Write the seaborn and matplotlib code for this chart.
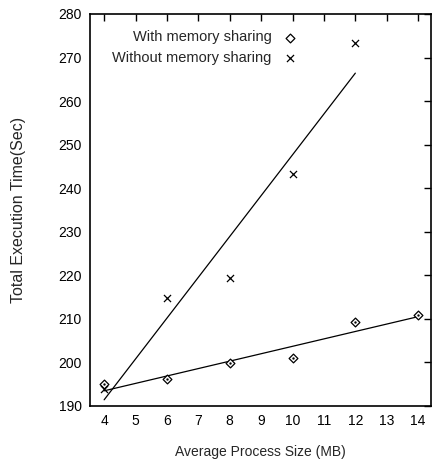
import matplotlib
matplotlib.use("Agg")
import matplotlib.pyplot as plt
import seaborn as sns
import pandas as pd
import numpy as np

sizes_with = [4, 6, 8, 10, 12, 14]
time_with = [195.0, 196.2, 199.8, 201.0, 209.2, 210.8]
sizes_without = [4, 6, 8, 10, 12]
time_without = [193.8, 214.8, 219.4, 243.3, 273.3]
xticks = list(range(4, 15))
yticks = list(range(190, 281, 10))

sns.set_theme(style="white")
plt.rcParams['font.family'] = ['Liberation Sans', 'DejaVu Sans']

fig = plt.figure(figsize=(4.32, 4.59), dpi=100)
ax = fig.add_axes([90/432, 1-406/459, 341/432, 392/459])

df_w = pd.DataFrame({"x": sizes_with, "y": time_with})
df_wo = pd.DataFrame({"x": sizes_without, "y": time_without})

sns.regplot(data=df_w, x="x", y="y", ci=None, ax=ax, truncate=True,
            scatter=False, line_kws=dict(color="black", lw=0.9))
sns.regplot(data=df_wo, x="x", y="y", ci=None, ax=ax, truncate=True,
            scatter=False, line_kws=dict(color="black", lw=0.9))
sns.scatterplot(data=df_w, x="x", y="y", ax=ax, marker="D", s=20,
                facecolor="white", edgecolor="black", linewidth=0.9,
                label="With memory sharing", zorder=3)
sns.scatterplot(data=df_wo, x="x", y="y", ax=ax, marker="x", s=26,
                color="black", linewidth=0.9,
                label="Without memory sharing", zorder=3)
ax.scatter(sizes_with, time_with, marker=".", s=2, color="black", zorder=4)

ax.set_xlim(3.55, 14.41)
ax.set_ylim(190, 280)
ax.set_xticks(xticks)
ax.set_yticks(yticks)
ax.tick_params(direction="in", length=5, width=1, top=True, right=True,
               labelsize=10, colors="black", pad=6)
for s in ax.spines.values():
    s.set_color("black")
    s.set_linewidth(1.2)
ax.set_xlabel("Average Process Size (MB)", fontsize=10, labelpad=12)
ax.set_ylabel("Total Execution Time(Sec)", fontsize=11.5)
ax.yaxis.set_label_coords(-64/341, 0.5)

leg = ax.legend(loc="upper left", markerfirst=False, frameon=False,
                fontsize=10.5, handletextpad=0.75, handlelength=1.0,
                borderaxespad=0, borderpad=0, labelspacing=0.45,
                bbox_to_anchor=(0.065, 0.958))

fig.savefig("out.png", dpi=100)
